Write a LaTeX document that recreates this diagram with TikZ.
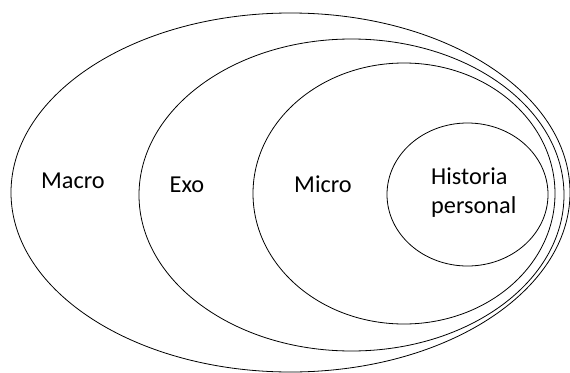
\documentclass[tikz,border=0pt]{standalone}
\usepackage{fontspec}
\setmainfont{Carlito}
\usetikzlibrary{calc}

\tikzset{
  ring/.style={line width=0.8pt,color=black},
  ringlabel/.style={font=\fontsize{24.3}{29}\selectfont,text=black,anchor=base,inner sep=0pt}
}

\begin{document}
\begin{tikzpicture}[x=1pt,y=-1pt]
\useasboundingbox (0,0) rectangle (570,372);

\coordinate (Cmacro) at (290.5,192.5);
\coordinate (Cexo) at (351.5,195);
\coordinate (Cmicro) at (404,193.5);
\coordinate (Chist) at (467.5,194.5);

\draw[ring] (Cmacro) ellipse [x radius=279.5,y radius=179.5];
\draw[ring] (Cexo) ellipse [x radius=212.5,y radius=156];
\draw[ring] (Cmicro) ellipse [x radius=151,y radius=130.5];
\draw[ring] (Chist) ellipse [x radius=80.5,y radius=71.5];

\node[ringlabel] (macro) at (73,188) {Macro};
\node[ringlabel] (exo) at (187,192) {Exo};
\node[ringlabel] (micro) at (323,192) {Micro};
\node[ringlabel,anchor=base west] (hist) at (431,184) {Historia};
\node[ringlabel,anchor=base west] (pers) at (431,213) {personal};

\end{tikzpicture}
\end{document}
